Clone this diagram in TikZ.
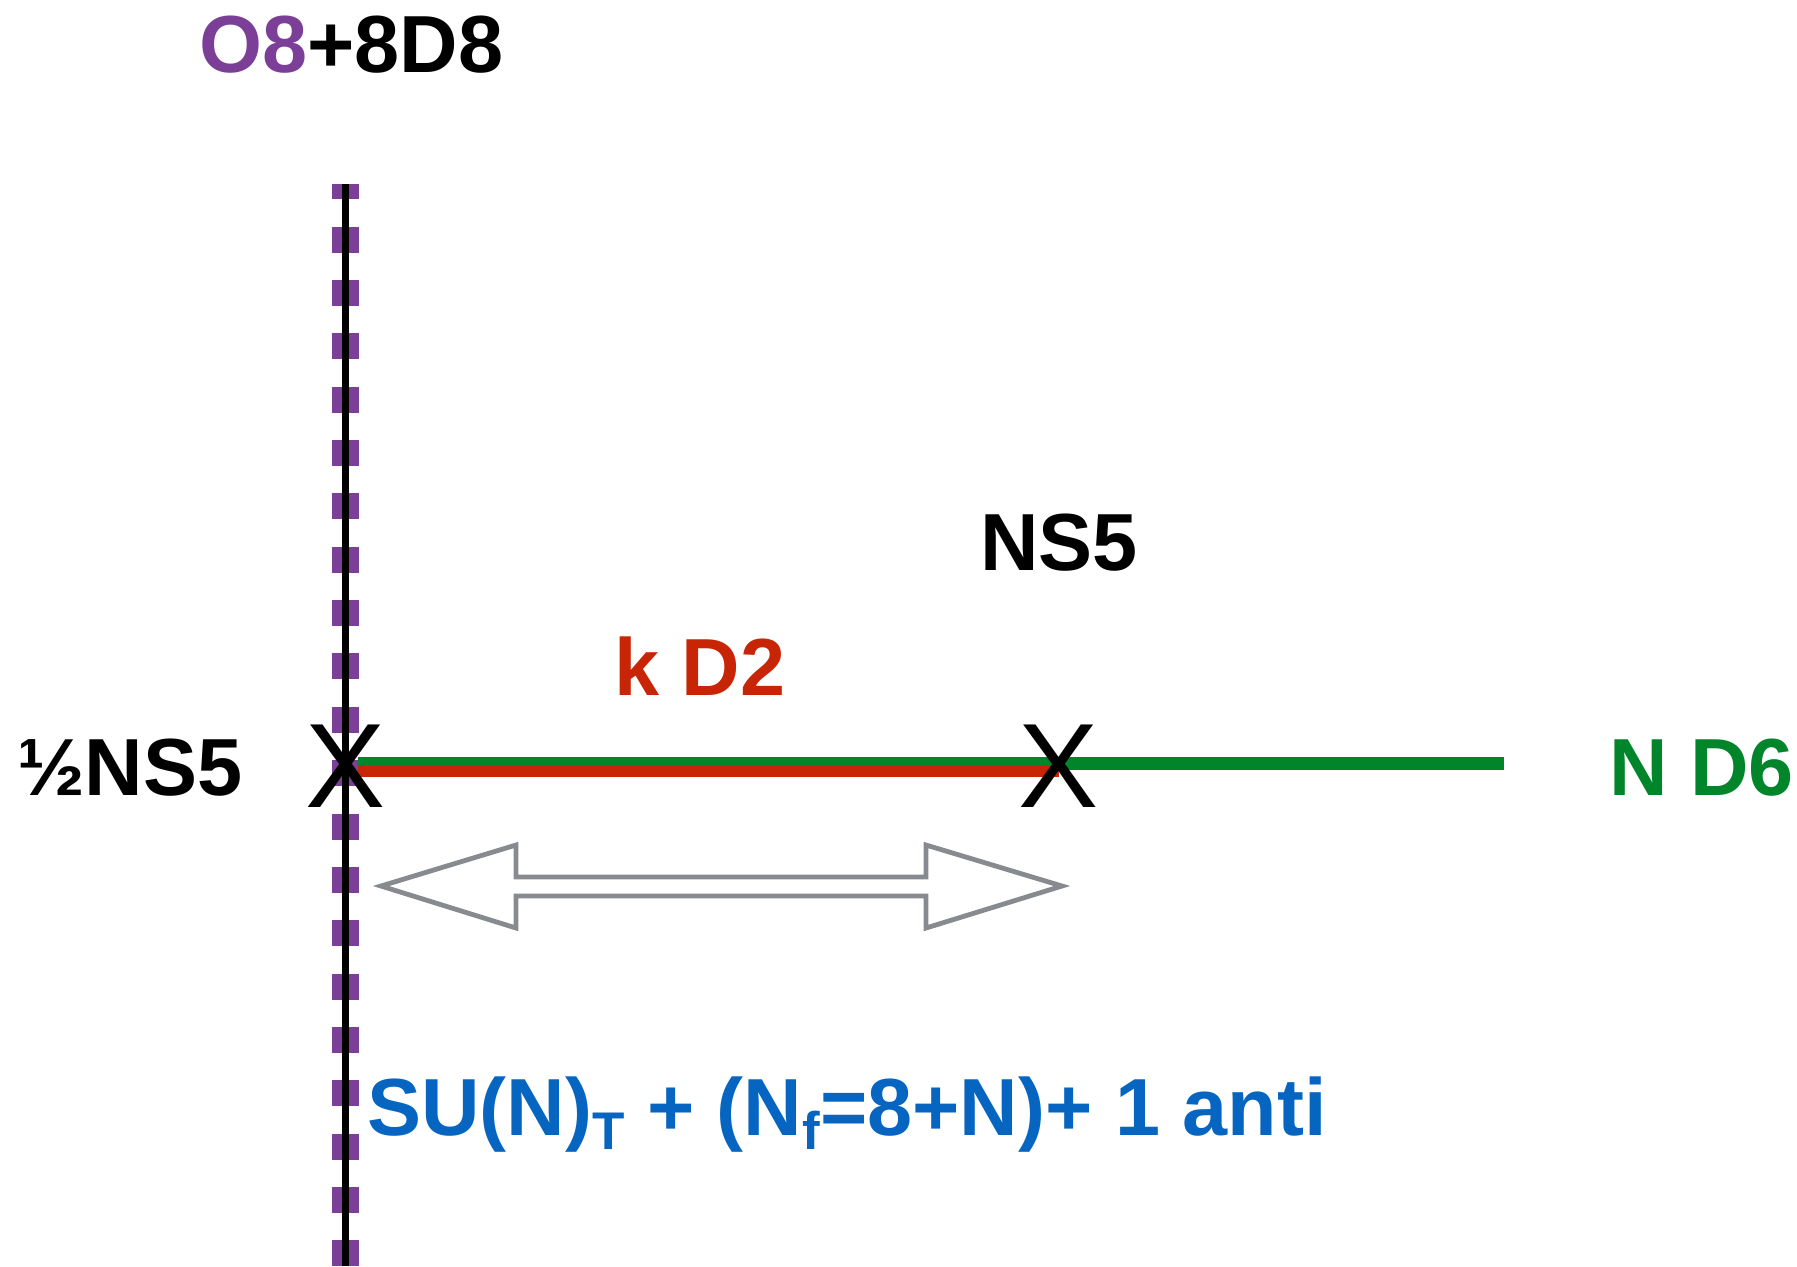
\documentclass[tikz,border=0pt]{standalone}
\usepackage{fontspec}
\setmainfont{Liberation Sans}
\usetikzlibrary{positioning}
\definecolor{osviolet}{RGB}{123,63,152}
\definecolor{dsixgreen}{RGB}{0,133,43}
\definecolor{dtwored}{RGB}{200,37,6}
\definecolor{gaugeblue}{RGB}{5,101,192}
\definecolor{arrowgray}{RGB}{135,138,142}
\newcommand{\bigfont}{\fontsize{40.5pt}{48pt}\selectfont\bfseries}
\newcommand{\lowsub}[1]{\raisebox{-7pt}{\fontsize{26.5pt}{30pt}\selectfont\bfseries #1}}

\begin{document}
\begin{tikzpicture}[x=0.5pt,y=-0.5pt,
    lbl/.style={inner sep=0pt,anchor=base west,font=\bigfont},
    cross/.style={inner sep=0pt,font=\fontsize{60pt}{60pt}\selectfont},
    dsixline/.style={dsixgreen,line width=6.5pt},
    dtwoline/.style={dtwored,line width=5.5pt}]
  \useasboundingbox (0,0) rectangle (1797,1266);
  % O8 plane, half NS5 stuck on it
  \coordinate (otop) at (345,184);
  \coordinate (obot) at (345,1266);
  \draw[osviolet,line width=13.5pt,dash pattern=on 13pt off 13.67pt,dash phase=5.3pt] (otop) -- (obot);
  \draw[line width=3.5pt] (otop) -- (obot);
  % branes between the NS5's
  \coordinate (lxc) at (346,766);
  \coordinate (rxc) at (1059,766);
  \coordinate (dsixend) at (1504,763);
  \draw[dsixline] ([shift={(12,-3)}]lxc) -- (dsixend);
  \draw[dtwoline] ([shift={(12,5)}]lxc) -- ([shift={(0,5)}]rxc);
  \node[cross] (lx) at (lxc) {X};
  \node[cross] (rx) at (rxc) {X};
  % moving the NS5
  \draw[arrowgray,line width=2.4pt,fill=white] (381,886) -- (516,845) -- (516,877) -- (926,877)
    -- (926,845) -- (1062,886) -- (926,928) -- (926,896) -- (516,896) -- (516,928) -- cycle;
  % labels
  \node[lbl] (oplane) at (199,72) {\textcolor{osviolet}{O8}+8D8};
  \node[lbl] (halfns) at (17,795) {½NS5};
  \node[lbl] (ns) at (980,570) {NS5};
  \node[lbl,text=dtwored] (dtwo) at (614,695) {k D2};
  \node[lbl,text=dsixgreen] (dsix) at (1609,795) {N D6};
  \node[lbl,text=gaugeblue] (gauge) at (367,1135) {SU(N)\lowsub{T} + (N\lowsub{f}=8+N)+ 1 anti};
\end{tikzpicture}
\end{document}
